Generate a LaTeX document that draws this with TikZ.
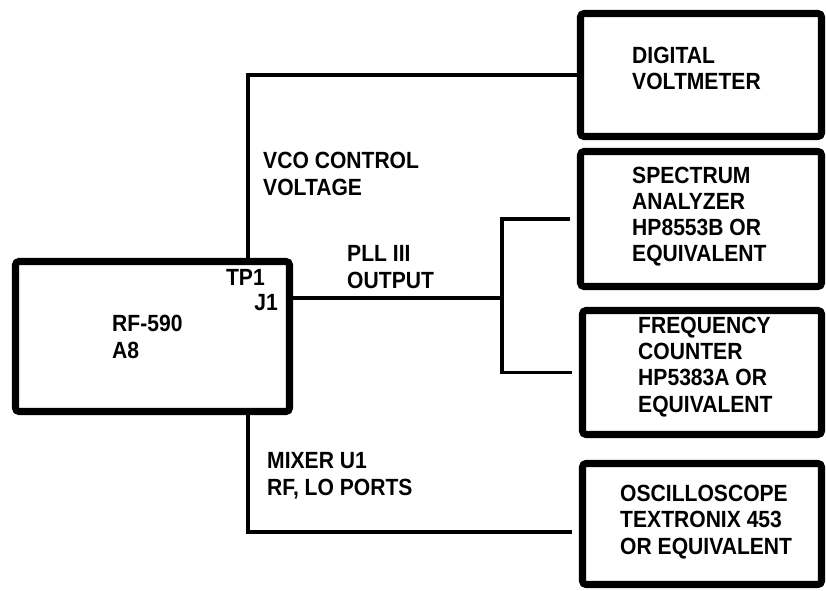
\documentclass[tikz,border=0pt]{standalone}
\usepackage{fontspec}
\setmainfont[FakeStretch=0.9]{Liberation Sans}
\usetikzlibrary{positioning,calc}
\tikzset{
  instbox/.style={draw=black,line width=6pt,rounded corners=3pt,inner sep=0pt},
  wire/.style={line width=2.6pt,black},
  brwire/.style={wire,shorten <=0.2cm,shorten >=0.2cm},
  boxlbl/.style={font=\bfseries\fontsize{20}{22.2}\selectfont,align=left,
    anchor=base west,inner sep=0pt},
  pinlbl/.style={boxlbl,anchor=base east},
}
\begin{document}
\begin{tikzpicture}[x=0.03cm,y=-0.03cm]
  \useasboundingbox (0,0) rectangle (826,591);
  % instruments
  \node[instbox,minimum width=8.22cm,minimum height=4.5cm] (rf) at (152.5,336.5) {};
  \node[instbox,minimum width=7.23cm,minimum height=3.69cm] (dvm) at (701,75) {};
  \node[instbox,minimum width=7.23cm,minimum height=4.05cm] (spec) at (701,219) {};
  \node[instbox,minimum width=7.17cm,minimum height=3.72cm] (freq) at (702,372.5) {};
  \node[instbox,minimum width=7.17cm,minimum height=3.63cm] (osc) at (702,524) {};
  % box texts (placed by the last line)
  \node[boxlbl] (rftxt) at (112,358) {RF-590\\A8};
  \node[pinlbl] (tp1) at (265,285) {TP1};
  \node[pinlbl] (j1) at (278,310) {J1};
  \node[boxlbl] (dvmtxt) at (632,90) {DIGITAL\\VOLTMETER};
  \node[boxlbl] (spectxt) at (632,262) {SPECTRUM\\ANALYZER\\HP8553B OR\\EQUIVALENT};
  \node[boxlbl] (freqtxt) at (638,412) {FREQUENCY\\COUNTER\\HP5383A OR\\EQUIVALENT};
  \node[boxlbl] (osctxt) at (620,554) {OSCILLOSCOPE\\TEXTRONIX 453\\OR EQUIVALENT};
  % wiring
  \coordinate (tpx) at (248,0);
  \coordinate (split) at (502,298);
  \draw[wire] (rf.north -| tpx) |- (dvm.west);
  \draw[wire] (split -| rf.east) -- (split);
  \draw[brwire] (spec.west) -| (split) |- (freq.west);
  \draw[wire,shorten >=0.2cm] (rf.south -| tpx) |- ([yshift=-0.24cm]osc.west);
  % wire labels
  \node[boxlbl] (vcolbl) at (263,195) {VCO CONTROL\\VOLTAGE};
  \node[boxlbl] (plllbl) at (347,288) {PLL III\\OUTPUT};
  \node[boxlbl] (mixlbl) at (267,495) {MIXER U1\\RF, LO PORTS};
\end{tikzpicture}
\end{document}
